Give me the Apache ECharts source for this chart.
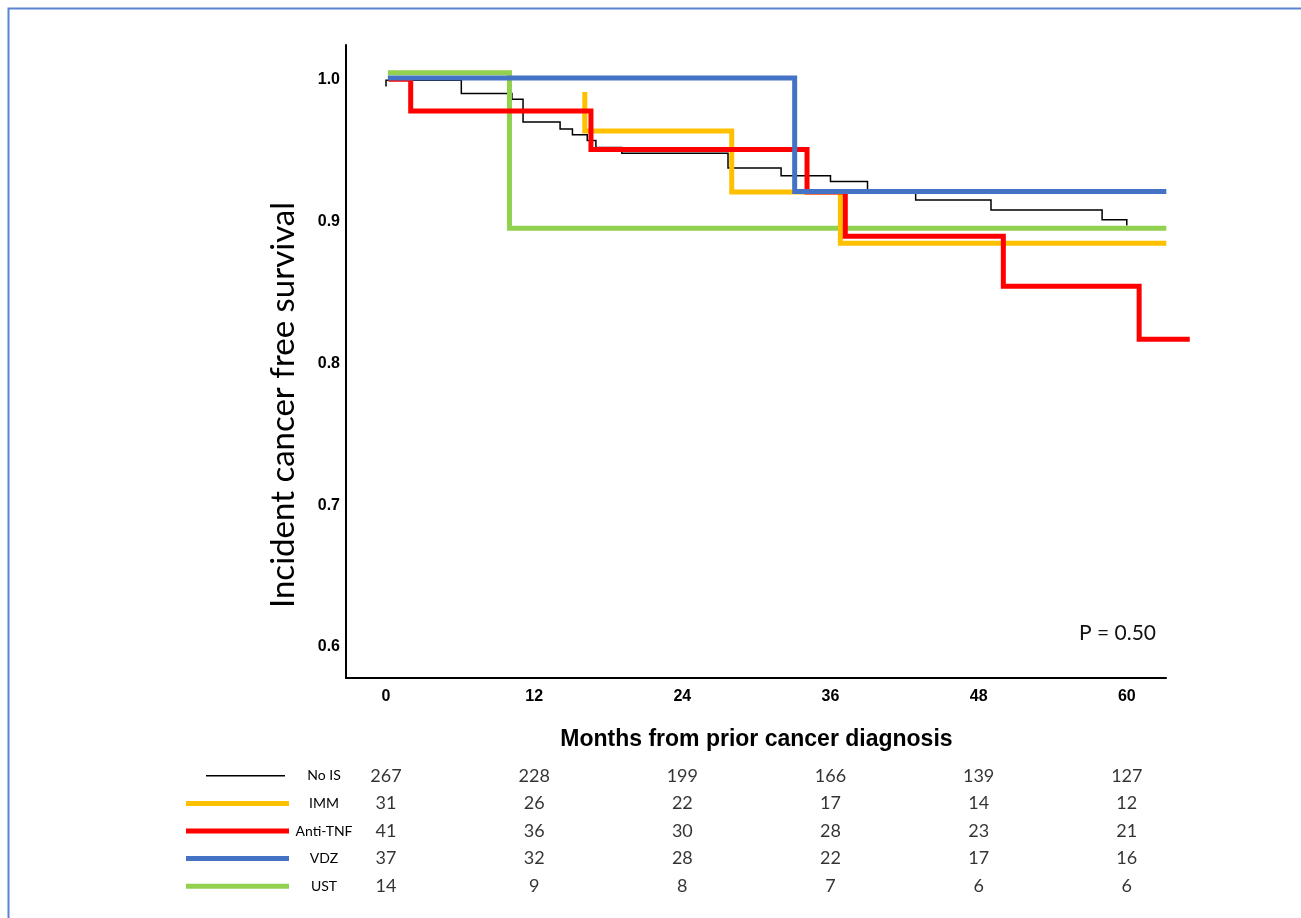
<!DOCTYPE html>
<html>
<head>
<meta charset="utf-8">
<title>Incident cancer free survival</title>
<script src="https://cdn.jsdelivr.net/npm/echarts@6.0.0/dist/echarts.min.js"></script>
<style>
  html, body { margin: 0; padding: 0; background: #fff; }
  #chart { width: 1301px; height: 918px; }
</style>
</head>
<body>
<div id="chart"></div>
<script>
// Kaplan-Meier steps, [months, survival]
const noIS = [[0, 0.995], [0, 0.9993], [6.1, 0.990], [10.2, 0.986], [11.1, 0.970], [14.1, 0.965],
  [15.1, 0.961], [16.3, 0.957], [17.0, 0.952], [19.1, 0.948], [27.7, 0.9375], [32.0, 0.932],
  [36.0, 0.928], [39.0, 0.922], [42.9, 0.915], [49.0, 0.908], [58.0, 0.901], [60.0, 0.897]];
const ust = [[0.15, 1.0047], [10.0, 0.895], [63.2, 0.895]];
const imm = [[16.1, 0.991], [16.1, 0.9636], [28.0, 0.9206], [36.8, 0.8846], [63.2, 0.8846]];
const antiTNF = [[0.2, 1.0], [2.0, 0.9777], [16.6, 0.9505], [34.1, 0.9206], [37.2, 0.8894],
  [50.0, 0.8542], [61.0, 0.8169], [65.1, 0.8169]];
const vdz = [[0.15, 1.0009], [33.1, 0.921], [63.2, 0.921]];

// number at risk table
const riskTimes = [0, 12, 24, 36, 48, 60];
const rowNames = ['No IS', 'IMM', 'Anti-TNF', 'VDZ', 'UST'];
const noISRisk = [267, 228, 199, 166, 139, 127];
const immRisk = [31, 26, 22, 17, 14, 12];
const antiTNFRisk = [41, 36, 30, 28, 23, 21];
const vdzRisk = [37, 32, 28, 22, 17, 16];
const ustRisk = [14, 9, 8, 7, 6, 6];

const xTicks = [0, 12, 24, 36, 48, 60];
const yTicks = [0.6, 0.7, 0.8, 0.9, 1.0];

const colors = { noIS: '#000000', imm: '#FFC000', antiTNF: '#FF0000', vdz: '#4472C4', ust: '#92D050' };
const rowColors = [colors.noIS, colors.imm, colors.antiTNF, colors.vdz, colors.ust];
const riskRows = [noISRisk, immRisk, antiTNFRisk, vdzRisk, ustRisk];

// the x axis line stops at AXIS_END, the red curve runs a little past it
const X_MIN = -3.24, AXIS_END = 63.24, X_MAX = 65.2;
const Y_MIN = 0.5782, Y_MAX = 1.0242;
const PX_PER_MONTH = 821 / (AXIS_END - X_MIN);
const gridWidth = Math.round((X_MAX - X_MIN) * PX_PER_MONTH);

let riskData = [];
riskRows.forEach((row, r) => {
  row.forEach((n, c) => riskData.push([riskTimes[c], rowNames[r], n]));
});

function km(name, data, color, width) {
  return {
    name: name,
    type: 'line',
    step: 'end',
    symbol: 'none',
    xAxisIndex: 0,
    yAxisIndex: 0,
    data: data,
    lineStyle: { color: color, width: width, cap: 'butt', join: 'miter' },
    itemStyle: { color: color },
    emphasis: { disabled: true },
    clip: false
  };
}

const tickFont = { fontFamily: 'Liberation Sans', fontWeight: 'bold', fontSize: 16, color: '#000' };

let chart = echarts.init(document.getElementById('chart'));
let option = {
  animation: false,
  grid: [
    { left: 346, top: 45, width: gridWidth, height: 633 },
    { left: 346, top: 762, width: gridWidth, height: 138 }
  ],
  xAxis: [
    {
      type: 'value',
      gridIndex: 0,
      min: X_MIN,
      max: X_MAX,
      axisLine: { show: false },
      axisTick: { show: false },
      splitLine: { show: false },
      axisLabel: Object.assign({ customValues: xTicks, margin: 11 }, tickFont)
    },
    {
      type: 'value',
      gridIndex: 1,
      min: X_MIN,
      max: X_MAX,
      show: false
    }
  ],
  yAxis: [
    {
      type: 'value',
      gridIndex: 0,
      min: Y_MIN,
      max: Y_MAX,
      axisLine: { show: true, onZero: false, lineStyle: { color: '#000', width: 2 } },
      axisTick: { show: false },
      splitLine: { show: false },
      axisLabel: Object.assign({ customValues: yTicks, formatter: (v) => v.toFixed(1), margin: 6 }, tickFont)
    },
    {
      type: 'category',
      gridIndex: 1,
      data: rowNames,
      inverse: true,
      axisLine: { show: false },
      axisTick: { show: false },
      splitLine: { show: false },
      axisLabel: {
        align: 'center',
        margin: 22,
        fontFamily: 'Lato',
        fontSize: 14,
        color: '#000'
      }
    }
  ],
  series: [
    km('No IS', noIS, colors.noIS, 1.5),
    km('UST', ust, colors.ust, 5),
    km('IMM', imm, colors.imm, 5),
    km('Anti-TNF', antiTNF, colors.antiTNF, 5),
    km('VDZ', vdz, colors.vdz, 5),
    {
      name: 'at risk',
      type: 'scatter',
      xAxisIndex: 1,
      yAxisIndex: 1,
      data: riskData,
      symbolSize: 1,
      itemStyle: { color: 'transparent' },
      label: {
        show: true,
        position: 'inside',
        formatter: (p) => String(p.value[2]),
        fontFamily: 'Lato',
        fontSize: 18,
        color: '#000'
      },
      emphasis: { disabled: true },
      silent: true
    }
  ]
};
chart.setOption(option);

// x axis line, titles, legend samples beside the at-risk rows, frame and p-value
const axisStart = chart.convertToPixel({ gridIndex: 0 }, [X_MIN, Y_MIN]);
const axisEnd = chart.convertToPixel({ gridIndex: 0 }, [AXIS_END, Y_MIN]);
let graphics = [
  {
    type: 'polyline',
    shape: { points: [[8.5, 918], [8.5, 8.5], [1301, 8.5]] },
    style: { stroke: '#5a84d0', lineWidth: 2, fill: null }
  },
  {
    type: 'line',
    shape: { x1: axisStart[0] - 1, y1: axisStart[1], x2: axisEnd[0], y2: axisEnd[1] },
    style: { stroke: '#000', lineWidth: 2 }
  },
  {
    type: 'text',
    x: (axisStart[0] + axisEnd[0]) / 2,
    y: 740,
    style: {
      text: 'Months from prior cancer diagnosis',
      fontFamily: 'Liberation Sans',
      fontWeight: 'bold',
      fontSize: 23,
      fill: '#000',
      align: 'center',
      verticalAlign: 'middle'
    }
  },
  {
    type: 'text',
    x: 283,
    y: 405,
    rotation: Math.PI / 2,
    style: {
      text: 'Incident cancer free survival',
      fontFamily: 'Lato',
      fontSize: 33,
      fill: '#000',
      align: 'center',
      verticalAlign: 'middle'
    }
  },
  {
    type: 'text',
    x: 1079,
    y: 633,
    style: { text: 'P = 0.50', fontFamily: 'Lato', fontSize: 21, fill: '#111', verticalAlign: 'middle' }
  }
];
rowNames.forEach((n, i) => {
  const y = chart.convertToPixel({ yAxisIndex: 1 }, n);
  const thin = i === 0;
  graphics.push({
    type: 'line',
    shape: { x1: thin ? 206 : 186, y1: y, x2: thin ? 285 : 289, y2: y },
    style: { stroke: rowColors[i], lineWidth: thin ? 1.5 : 5 }
  });
});
chart.setOption({ graphic: graphics });
</script>
</body>
</html>
